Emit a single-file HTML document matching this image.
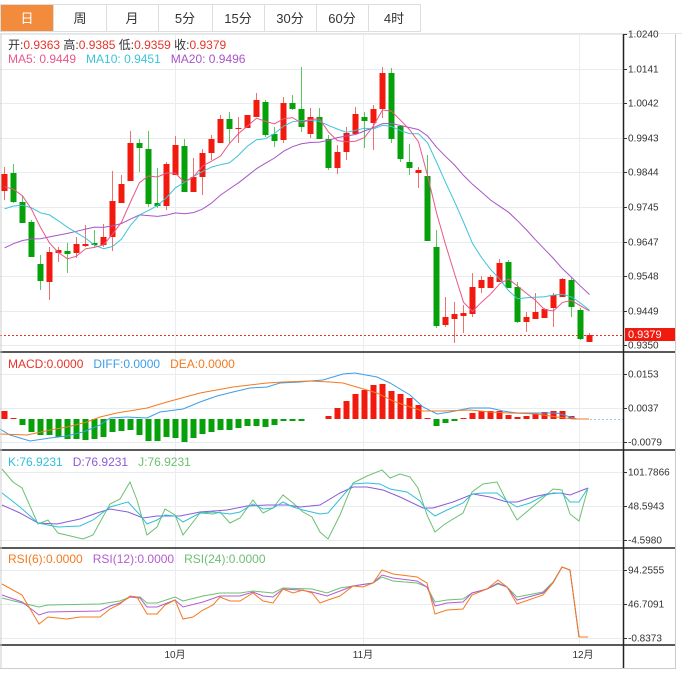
<!DOCTYPE html>
<html><head><meta charset="utf-8">
<style>
html,body{margin:0;padding:0;background:#fff;width:682px;height:678px;overflow:hidden;font-family:"Liberation Sans","Noto Sans CJK SC",sans-serif;}
svg{display:block}
text{font-family:"Liberation Sans","Noto Sans CJK SC",sans-serif;}
</style></head><body>
<svg id="s" width="682" height="678" xmlns="http://www.w3.org/2000/svg">
<rect x="0" y="0" width="682" height="678" fill="#fff"/>
<rect x="0.5" y="4.5" width="420" height="27" fill="#fff" stroke="#ddd"/>
<rect x="1" y="5" width="52" height="26" fill="#f28c3c"/>
<g stroke="#ddd"><line x1="53.5" y1="5" x2="53.5" y2="31"/><line x1="106.5" y1="5" x2="106.5" y2="31"/><line x1="158.5" y1="5" x2="158.5" y2="31"/><line x1="212.5" y1="5" x2="212.5" y2="31"/><line x1="264.5" y1="5" x2="264.5" y2="31"/><line x1="316.5" y1="5" x2="316.5" y2="31"/><line x1="368.5" y1="5" x2="368.5" y2="31"/></g>
<g font-size="13" text-anchor="middle" fill="#333"><text x="27" y="23" fill="#fff">日</text><text x="80" y="23">周</text><text x="132" y="23">月</text><text x="185" y="23">5分</text><text x="238" y="23">15分</text><text x="290" y="23">30分</text><text x="342" y="23">60分</text><text x="394" y="23">4时</text></g>
<line x1="0" y1="33.5" x2="682" y2="33.5" stroke="#e4e4e4"/>
<g id="grid"></g>
<g id="plot"></g>
<g stroke="#222" stroke-width="1.5">
<line x1="0" y1="352" x2="675" y2="352"/><line x1="0" y1="450" x2="675" y2="450"/><line x1="0" y1="548" x2="675" y2="548"/><line x1="0" y1="645" x2="675" y2="645"/>
<line x1="623.5" y1="34" x2="623.5" y2="668"/></g>
<line x1="1" y1="34" x2="1" y2="668" stroke="#ccc"/>
<line x1="675.5" y1="34" x2="675.5" y2="668" stroke="#ccc"/>
<line x1="0" y1="668.5" x2="676" y2="668.5" stroke="#ccc"/>
<g id="axis" font-size="10" fill="#333"></g>
<text x="8" y="49" font-size="12" fill="#333">开:<tspan fill="#e8332a">0.9363</tspan>  高:<tspan fill="#e8332a">0.9385</tspan>  低:<tspan fill="#e8332a">0.9359</tspan>  收:<tspan fill="#e8332a">0.9379</tspan></text>
<text x="8" y="63" font-size="12"><tspan fill="#e8578a">MA5: 0.9449</tspan><tspan fill="#3cc4d8" dx="10">MA10: 0.9451</tspan><tspan fill="#a855c8" dx="10">MA20: 0.9496</tspan></text>
<text x="8" y="368" font-size="12"><tspan fill="#e8332a">MACD:0.0000</tspan><tspan fill="#3c9ee8" dx="10">DIFF:0.0000</tspan><tspan fill="#f47a20" dx="10">DEA:0.0000</tspan></text>
<text x="8" y="466" font-size="12"><tspan fill="#30c0d8">K:76.9231</tspan><tspan fill="#8a5cd8" dx="10">D:76.9231</tspan><tspan fill="#6cc070" dx="10">J:76.9231</tspan></text>
<text x="8" y="563" font-size="12"><tspan fill="#f47a20">RSI(6):0.0000</tspan><tspan fill="#b45cd0" dx="10">RSI(12):0.0000</tspan><tspan fill="#6cc070" dx="10">RSI(24):0.0000</tspan></text>
<g font-size="10" fill="#333" text-anchor="middle"><text x="175" y="658">10月</text><text x="363" y="658">11月</text><text x="583" y="658">12月</text></g>
</svg>
<script>
var NS="http://www.w3.org/2000/svg";
function el(p,t,a){var e=document.createElementNS(NS,t);for(var k in a)e.setAttribute(k,a[k]);document.getElementById(p).appendChild(e);return e;}
var D=[['r',174,191,167,200],['g',173,202,164,203],['g',202,223,195,223],['g',222,257,220,257],['g',264,281,255,290],['r',252,282,247,300],['r',250,253,247,262],['g',251,254,243,273],['r',244,253,237,258],['r',244,246,225,247],['g',243,245,230,247],['r',237,245,224,247],['r',201,237,171,251],['r',184,203,175,203],['r',143,181,131,181],['g',143,148,139,172],['g',149,204,131,207],['g',203,206,168,208],['r',164,206,162,210],['r',145,175,136,175],['g',146,192,139,192],['r',177,192,158,192],['r',153,177,149,195],['r',139,153,135,160],['r',119,143,115,143],['g',119,129,112,143],['r',128,129,117,143],['r',115,128,115,128],['r',100,117,93,117],['g',102,135,100,137],['g',134,141,127,147],['r',103,140,97,143],['g',103,109,95,110],['g',109,127,67,132],['r',117,134,108,138],['g',117,139,108,139],['g',139,168,135,170],['r',152,168,145,174],['r',133,152,127,160],['r',114,134,107,134],['g',117,121,112,148],['r',109,123,105,150],['r',73,109,67,118],['g',73,139,68,143],['g',126,159,125,162],['g',162,168,144,175],['r',170,173,167,188],['g',176,241,155,241],['g',247,326,230,328],['r',317,325,297,327],['r',314,319,302,343],['r',313,316,305,333],['r',287,314,273,317],['r',280,288,276,293],['r',277,288,275,288],['r',263,282,259,282],['g',262,288,260,288],['g',287,322,282,323],['r',317,322,312,332],['r',312,319,293,319],['r',309,318,308,318],['r',295,308,293,327],['r',279,297,278,297],['g',280,307,278,317],['g',310,339,308,340],['r',335,342,333,342]];
var N=D.length;function X(i){return 4.5+9*i;}
function P(y){return 1.024-(y-34)/34.6*0.0099;}
var gl=[34,69,103,138,172,207,242,276,311,345,374,408,442,472,506,540,570,604,638];
gl.forEach(function(y){el('grid','line',{x1:0,y1:y+.5,x2:623,y2:y+.5,stroke:'#e6ecf0'});});
[175,363,579].forEach(function(x){el('grid','line',{x1:x+.5,y1:34,x2:x+.5,y2:645,stroke:'#e8eef2'});});
var lab=[[34,'1.0240'],[69,'1.0141'],[103,'1.0042'],[138,'0.9943'],[172,'0.9844'],[207,'0.9745'],[242,'0.9647'],[276,'0.9548'],[311,'0.9449'],[345,'0.9350'],[374,'0.0153'],[408,'0.0037'],[442,'-0.0079'],[472,'101.7866'],[506,'48.5943'],[540,'-4.5980'],[570,'94.2555'],[604,'46.7091'],[638,'-0.8373']];
lab.forEach(function(l){el('axis','line',{x1:623,y1:l[0]+.5,x2:627,y2:l[0]+.5,stroke:'#333'});var t=el('axis','text',{x:628,y:l[0]+3.5});t.textContent=l[1];});
el('plot','line',{x1:0,y1:335.5,x2:623,y2:335.5,stroke:'#e8332a','stroke-dasharray':'2,2'});
el('axis','rect',{x:625,y:328,width:50,height:13,fill:'#f21a0e'});
var tt=el('axis','text',{x:628,y:338,fill:'#fff','font-size':'11'});tt.textContent='0.9379';
var C=[];
D.forEach(function(d,i){var up=d[0]=='r';var col=up?'#f21a0e':'#06a00a',wc=up?'#f07070':'#5cc85c';var x=X(i);
el('plot','line',{x1:x,y1:d[3],x2:x,y2:d[4],stroke:wc});
el('plot','rect',{x:x-3,y:d[1],width:6,height:Math.max(1,d[2]-d[1]),fill:col});
C.push(P(up?d[1]:d[2]));});
function poly(pts,c){el('plot','polyline',{points:pts.map(function(p){return p[0].toFixed(1)+','+p[1].toFixed(1)}).join(' '),fill:'none',stroke:c,'stroke-width':1});}
function pl(a,c){var p=[];for(var i=0;i<a.length;i+=2)p.push([a[i],a[i+1]]);poly(p,c);}
var padY=[287,287,287,287,287,287,287,287,287,287,231,231,231,231,231,190,190,190,190];
var all=padY.map(P).concat(C);
function ma(n){var o=[];for(var i=0;i<N;i++){var s=0;for(var j=0;j<n;j++)s+=all[i+19-j];o.push([X(i),34+(1.024-s/n)/0.0099*34.6]);}return o;}
poly(ma(20),'#a855c8');poly(ma(10),'#3cc4d8');poly(ma(5),'#e8578a');
// MACD histogram (hand-read tops)
var HB=[411,418,425,432,435,435,437,439,439,440,439,437,432,431,430,435,441,441,437,438,442,438,434,432,430,430,428,426,426,427,425,421,421,421,419,419,416,408,401,394,390,385,384,391,394,398,405,418,426,423,421,418,413,411,411,411,415,417,416,414,412,411,411,416,419,419];
HB.forEach(function(y,i){if(Math.abs(y-419)<1)return;var t=Math.min(y,419),h=Math.abs(y-419);el('plot','rect',{x:X(i)-3,y:t,width:6,height:h,fill:y<419?'#f21a0e':'#06a00a'});});
pl([0,429,10,435,30,441,50,438,67,436,83,432,100,425,110,418,127,417,147,418,160,412,183,409,200,402,217,396,233,392,250,388,267,387,280,383,300,382,310,381,323,380,343,374,355,373,377,377,390,383,410,395,423,407,437,414,450,412,470,408,490,408,503,411,517,413,537,413,557,413,567,416,577,419,589,419],'#3c9ee8');
pl([0,434,27,435,50,430,67,427,87,422,100,417,117,413,147,408,167,402,200,393,233,387,267,383,283,382,310,381,330,382,343,383,360,388,377,393,393,401,410,407,423,411,443,411,470,410,490,412,510,413,537,414,557,417,573,419,589,419],'#f47a20');
el('plot','line',{x1:590,y1:419.5,x2:623,y2:419.5,stroke:'#9ccbe8','stroke-dasharray':'2,2'});
// KDJ
pl([2,469,13,482,22,488,38,524,48,520,58,533,83,539,93,535,110,504,120,499,130,482,137,500,147,535,157,527,165,509,175,515,183,535,200,513,213,514,220,512,230,523,240,518,253,500,263,513,273,508,283,495,293,503,303,512,312,517,320,532,328,539,340,515,353,483,367,476,382,470,390,478,400,474,410,477,418,488,427,515,435,532,445,524,463,513,472,492,483,484,497,482,507,502,517,520,543,498,553,489,562,490,570,514,579,521,588,488],'#6cc070');
pl([2,505,20,513,38,523,57,524,80,519,97,513,110,509,128,512,143,518,157,516,167,516,180,516,200,512,227,510,247,506,267,505,287,505,300,507,320,505,340,493,353,487,367,487,383,490,400,497,423,508,433,508,453,502,473,494,490,497,507,502,517,502,533,497,547,494,560,493,570,495,588,488],'#8a5cd8');
pl([2,493,20,507,38,523,58,527,80,526,93,520,110,507,128,502,140,515,147,524,157,520,165,515,175,516,183,522,200,513,213,512,230,514,240,512,253,504,263,509,273,508,283,502,293,507,303,510,320,514,328,513,340,499,353,484,367,483,380,484,390,489,407,492,420,501,425,508,435,516,447,510,463,503,472,494,483,493,497,493,507,501,517,507,530,503,543,496,553,493,562,493,570,502,579,502,588,488],'#30c0d8');
// RSI
pl([2,598,22,603,39,607,48,605,100,604,120,601,130,597,140,597,147,603,157,603,175,597,183,601,203,596,220,593,240,593,253,591,273,593,283,588,312,589,327,593,340,588,353,586,373,583,382,577,393,581,417,583,427,587,435,602,447,600,463,599,472,593,487,589,498,584,507,587,517,597,543,592,553,582,562,567,570,570,579,637,588,637],'#6cc070');
pl([2,595,22,602,39,615,48,612,100,611,110,606,120,603,130,597,140,598,147,607,157,607,175,600,183,607,203,602,220,596,240,596,253,592,263,596,273,597,283,589,300,590,312,592,327,596,340,591,353,586,373,583,382,575,393,578,417,581,427,587,435,606,447,603,463,602,472,593,487,589,498,583,507,587,517,600,543,593,553,583,562,567,570,570,579,637,588,637],'#b45cd0');
pl([2,584,22,595,39,624,48,617,67,619,80,617,100,617,110,609,120,604,130,596,137,597,147,614,157,614,165,605,175,600,183,619,193,617,203,610,213,605,220,597,230,601,240,601,253,593,263,601,273,603,283,589,293,593,303,590,312,593,320,603,328,600,340,596,353,586,363,587,373,583,382,570,393,574,417,577,427,583,435,614,447,610,463,609,472,595,487,589,498,580,507,587,517,604,543,595,553,583,562,567,570,570,579,637,588,637],'#f47a20');
</script>
</body></html>
